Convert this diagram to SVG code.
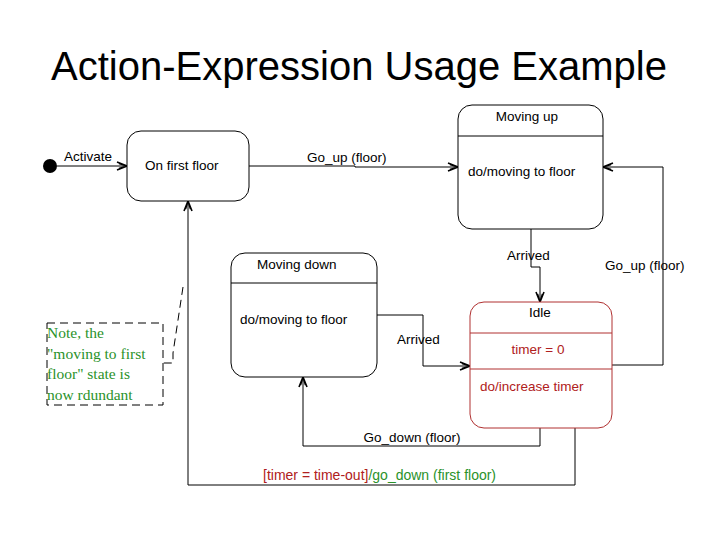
<svg xmlns="http://www.w3.org/2000/svg" width="720" height="540" viewBox="0 0 720 540">
<defs>
<style>
text{font-family:"Liberation Sans",Arial,sans-serif;font-size:13.5px;fill:#000}
.title{font-size:40px}
.st{fill:#fff;stroke:#000;stroke-width:1}
.idle{fill:#fff;stroke:#b03030;stroke-width:1}
.div{stroke:#000;stroke-width:1}
.divr{stroke:#b03030;stroke-width:1}
.red{fill:#b02020}
.green{fill:#2a922a}
.note{font-family:"Liberation Serif","Times New Roman",serif;font-size:15.5px;fill:#2a922a}
.c{fill:none;stroke:#000;stroke-width:1}
.dash{fill:none;stroke:#000;stroke-width:1;stroke-dasharray:8,5}
</style>
<marker id="ah" viewBox="0 0 12 10" refX="11" refY="5" markerWidth="12" markerHeight="10" markerUnits="userSpaceOnUse" orient="auto">
<path d="M1,1 L11,5 L1,9 M3,2.5 L11,5 L3,7.5" fill="none" stroke="#000" stroke-width="1.6"/>
</marker>
</defs>
<rect width="720" height="540" fill="#fff"/>
<text class="title" x="359" y="80" text-anchor="middle">Action-Expression Usage Example</text>

<g id="connectors">
<path class="c" d="M57,166 H127" marker-end="url(#ah)"/>
<path class="c" d="M249,166 H355 V167 H458" marker-end="url(#ah)"/>
<path class="c" d="M531,229 V267 H540 V302" marker-end="url(#ah)"/>
<path class="c" d="M377,315 H423 V366 H470" marker-end="url(#ah)"/>
<path class="c" d="M612,365 H663 V167 H603" marker-end="url(#ah)"/>
<path class="c" d="M540,428 V446 H303 V377" marker-end="url(#ah)"/>
<path class="c" d="M575,428 V485 H188 V201" marker-end="url(#ah)"/>
<path class="dash" d="M183,287 L173,353 V363 H163"/>
<text x="64" y="161">Activate</text>
<text x="307" y="162">Go_up (floor)</text>
<text x="507" y="260">Arrived</text>
<text x="605" y="270">Go_up (floor)</text>
<text x="397" y="344">Arrived</text>
<text x="412" y="442" text-anchor="middle">Go_down (floor)</text>
<text x="263" y="480" style="font-size:14px"><tspan class="red">[timer = time-out]</tspan><tspan class="green">/go_down (first floor)</tspan></text>
</g>

<g id="initial">
<circle cx="50" cy="166" r="7" fill="#000"/>
</g>

<g id="on-first-floor">
<rect class="st" x="127" y="131" width="122" height="70" rx="14"/>
<text x="145" y="170">On first floor</text>
</g>

<g id="moving-up">
<rect class="st" x="458" y="105" width="145" height="124" rx="14"/>
<line class="div" x1="458" y1="136" x2="603" y2="136"/>
<text x="527" y="121" text-anchor="middle">Moving up</text>
<text x="468" y="176">do/moving to floor</text>
</g>

<g id="moving-down">
<rect class="st" x="231" y="253" width="146" height="124" rx="14"/>
<line class="div" x1="231" y1="283" x2="377" y2="283"/>
<text x="257" y="269">Moving down</text>
<text x="240" y="324">do/moving to floor</text>
</g>

<g id="idle">
<rect class="idle" x="470" y="302" width="142" height="126" rx="14"/>
<line class="divr" x1="470" y1="333" x2="612" y2="333"/>
<line class="divr" x1="470" y1="369" x2="612" y2="369"/>
<text x="540" y="317" text-anchor="middle">Idle</text>
<text class="red" x="538" y="354" text-anchor="middle">timer = 0</text>
<text class="red" x="480" y="391">do/increase timer</text>
</g>

<g id="note">
<rect class="dash" x="47" y="323" width="116" height="82"/>
<text class="note" x="47" y="338">Note, the</text>
<text class="note" x="47" y="359">"moving to first</text>
<text class="note" x="47" y="379">floor" state is</text>
<text class="note" x="47" y="400">now rdundant</text>
</g>
</svg>
